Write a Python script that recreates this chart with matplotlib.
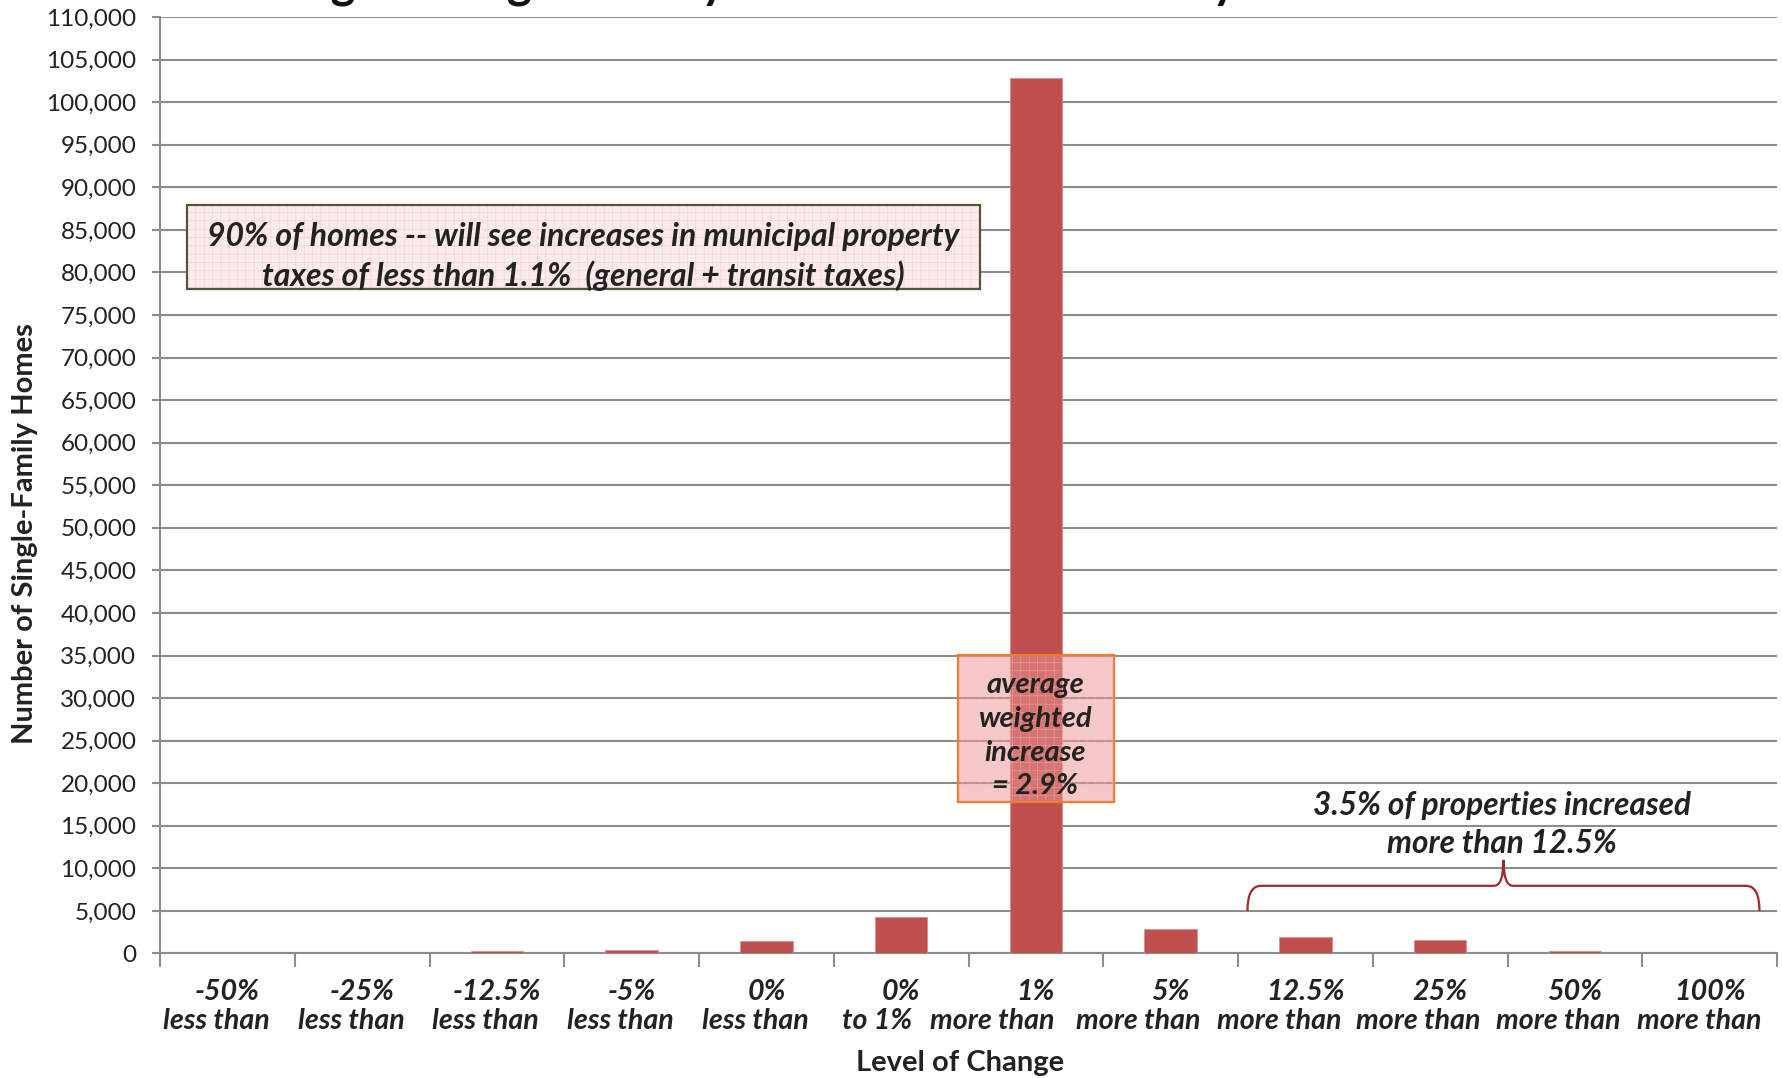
import matplotlib.pyplot as plt
import numpy as np
from matplotlib.patches import Rectangle, PathPatch
from matplotlib.path import Path
from matplotlib.ticker import FuncFormatter

FONT = 'Lato'
TEXT = '#222222'
GRID = '#8c8c8c'
BAR = '#c0504d'

change_from = ['-50%', '-25%', '-12.5%', '-5%', '0%', '0%', '1%', '5%', '12.5%', '25%', '50%', '100%']
change_dir = ['less than', 'less than', 'less than', 'less than', 'less than', 'to 1%',
              'more than', 'more than', 'more than', 'more than', 'more than', 'more than']
homes = [0, 0, 320, 400, 1480, 4330, 102800, 2930, 1920, 1550, 240, 0]

y_ticks = list(range(0, 110001, 5000))

# the second label line sits a little left of the category centre (pixels)
line2_shift = [-11, -11, -12, -11, -11, -24, -44, -32, -26, -22, -17, -10]

box_note = '90% of homes -- will see increases in municipal property\ntaxes of less than 1.1%  (general + transit taxes)'
avg_note = 'average\nweighted\nincrease\n= 2.9%'
brace_note = '3.5% of properties increased\nmore than 12.5%'
title = 'Change in Single-Family Home Total Tax Bills by Level'


def grid_box(fig, x, y, w, h, face, hatch_col, edge, alpha=1.0):
    # pink fill with the fine excel-style pattern, then the border on top
    fig.add_artist(Rectangle((x, y), w, h, transform=fig.transFigure, facecolor=face,
                             edgecolor=hatch_col, hatch='++', linewidth=0, alpha=alpha, zorder=5))
    fig.add_artist(Rectangle((x, y), w, h, transform=fig.transFigure, facecolor='none',
                             edgecolor=edge, linewidth=1.6, zorder=6))


def plot():
    plt.rcParams['hatch.linewidth'] = 0.4
    fig = plt.figure(figsize=(17.82, 10.78), dpi=100)
    ax = fig.add_axes([0.0898, 0.1155, 0.9074, 0.8687])

    x = np.arange(len(homes))
    ax.bar(x, homes, width=0.39, color=BAR, edgecolor='#d98e8c', linewidth=0.6, zorder=3)

    ax.set_xlim(-0.5, len(homes) - 0.5)
    ax.set_ylim(0, 110000)
    ax.set_yticks(y_ticks)
    ax.yaxis.set_major_formatter(FuncFormatter(lambda v, p: f'{int(v):,}'))
    ax.grid(axis='y', color=GRID, linewidth=1.5, zorder=0)

    ax.set_xticks(np.arange(-0.5, len(homes), 1))
    ax.set_xticklabels([])
    ax.set_xticks(x, minor=True)
    ax.set_xticklabels(change_from, minor=True)
    ax.tick_params(axis='x', which='major', length=10, width=1.5, color=GRID, direction='out')
    ax.tick_params(axis='x', which='minor', length=0, pad=18.5)
    ax.tick_params(axis='y', length=6, width=1.5, color=GRID, pad=11)
    label_kw = dict(fontfamily=FONT, fontweight='bold', fontstyle='italic', fontsize=20.6, color=TEXT)
    for lab in ax.get_xticklabels(minor=True):
        lab.set(**label_kw)
    for i, (txt, dx) in enumerate(zip(change_dir, line2_shift)):
        ax.annotate(txt, xy=(i, 0), xycoords=ax.get_xaxis_transform(), xytext=(dx * 0.72, -48.6),
                    textcoords='offset points', ha='center', va='center', annotation_clip=False,
                    **label_kw)
    for lab in ax.get_yticklabels():
        lab.set_fontfamily(FONT)
        lab.set_fontsize(17.5)
        lab.set_color(TEXT)

    for s in ['top', 'right']:
        ax.spines[s].set_visible(False)
    for s in ['left', 'bottom']:
        ax.spines[s].set_color(GRID)
        ax.spines[s].set_linewidth(1.5)

    # axis titles
    fig.text(0.5387, 0.0139, 'Level of Change', ha='center', va='center', fontfamily=FONT,
             fontweight='bold', fontsize=21, color=TEXT)
    fig.text(0.0140, 0.5046, 'Number of Single-Family Homes', ha='center', va='center', rotation=90,
             fontfamily=FONT, fontweight='bold', fontsize=21, color=TEXT)

    # title, mostly cut off by the top edge
    fig.text(0.1248, 1.002, title, ha='left', va='baseline', fontfamily=FONT, fontweight='bold',
             fontsize=34, color='#111111')

    # annotation boxes
    grid_box(fig, 0.1052, 0.7322, 0.4445, 0.0780, '#fcebeb', '#f3cfcf', '#5a5232')
    fig.text(0.3275, 0.7620, box_note, ha='center', va='center', fontfamily=FONT, fontweight='bold',
             fontstyle='italic', fontsize=23, color=TEXT, linespacing=1.38, zorder=7)

    grid_box(fig, 0.5376, 0.2557, 0.0875, 0.1371, '#ea9694', '#f5c9c8', '#ef7d31', alpha=0.52)
    fig.text(0.5808, 0.3175, avg_note, ha='center', va='center', fontfamily=FONT, fontweight='bold',
             fontstyle='italic', fontsize=21, color=TEXT, linespacing=1.36, zorder=7)

    # brace over the upper categories
    x0 = change_from.index('12.5%') - 0.43
    x1 = len(homes) - 1 + 0.37
    xm = (x0 + x1) / 2
    yb, yl, yt = 5000, 7950, 11000
    verts = [(x0, yb), (x0, yl), (x0 + 0.1, yl), (xm - 0.07, yl), (xm, yl), (xm, yt),
             (xm, yl), (xm + 0.07, yl), (x1 - 0.1, yl), (x1, yl), (x1, yb)]
    codes = [Path.MOVETO, Path.CURVE3, Path.CURVE3, Path.LINETO, Path.CURVE3, Path.CURVE3,
             Path.CURVE3, Path.CURVE3, Path.LINETO, Path.CURVE3, Path.CURVE3]
    ax.add_patch(PathPatch(Path(verts, codes), facecolor='none', edgecolor='#9e2a2b', linewidth=1.6,
                           zorder=4, clip_on=False))
    fig.text(0.8429, 0.2350, brace_note, ha='center', va='center', fontfamily=FONT, fontweight='bold',
             fontstyle='italic', fontsize=22.7, color=TEXT, linespacing=1.36, zorder=7)

    fig.savefig('out.png', dpi=100)


def main():
    plot()


if __name__ == "__main__":
    main()
